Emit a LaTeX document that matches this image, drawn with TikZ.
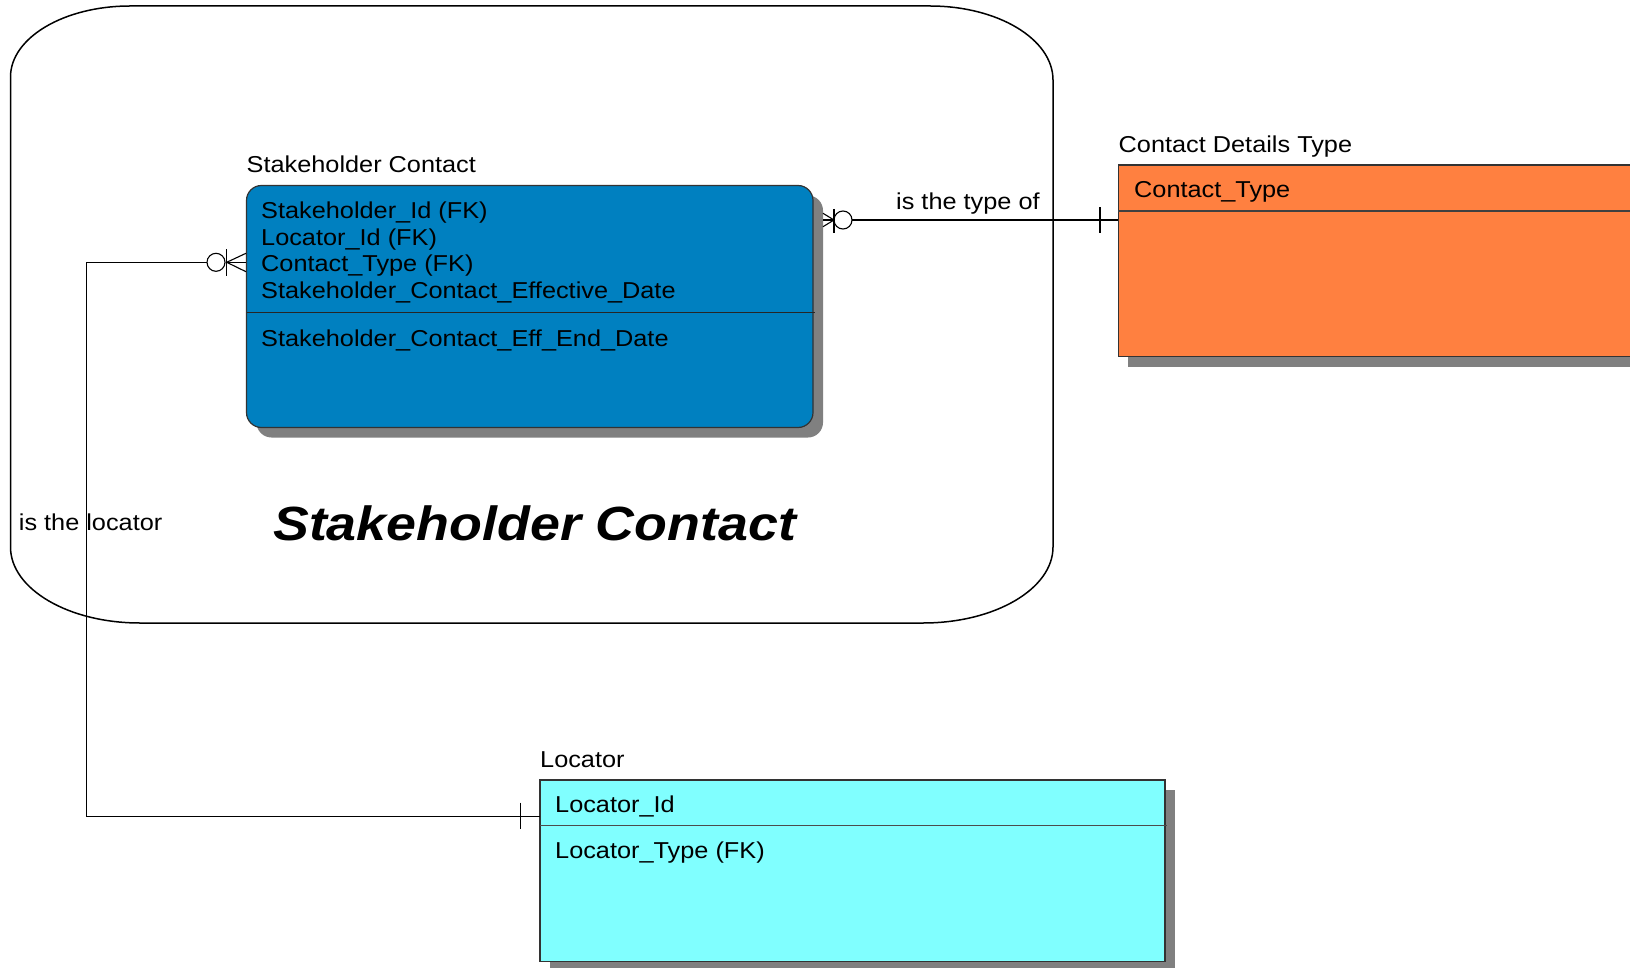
\documentclass[tikz,border=0pt]{standalone}
\usepackage{fontspec}
\setmainfont{Liberation Sans}
\usepackage{graphicx}
\usetikzlibrary{shadows}
\definecolor{scblue}{RGB}{0,128,192}
\definecolor{cdorange}{RGB}{255,128,64}
\definecolor{loccyan}{RGB}{128,255,255}
\definecolor{shadowgray}{RGB}{128,128,128}
\newcommand{\wtxt}[1]{\scalebox{1.1}[1]{#1}}
\tikzset{
  entitybox/.style={draw=black!80, line width=1.2pt, inner sep=0pt, outer sep=0pt, anchor=north west,
    drop shadow={shadow xshift=10pt, shadow yshift=-10pt, fill=shadowgray, opacity=1}},
  etext/.style={anchor=base west, inner sep=0pt, font=\fontsize{23}{27}\selectfont},
  conn/.style={line width=1.1pt, black},
  bigtitle/.style={anchor=base west, inner sep=0pt, font=\fontsize{48}{56}\selectfont\bfseries\itshape}
}
\begin{document}
\begin{tikzpicture}[x=1pt,y=-1pt]
\useasboundingbox (0,0) rectangle (1630,968);
\clip (0,0) rectangle (1630,968);
\fill[white] (0,0) rectangle (1630,968);

% subject area container
\draw[line width=1.5pt] (130,6) -- (930,6)
  arc[start angle=90, end angle=0, x radius=123, y radius=-74] -- (1053,547)
  arc[start angle=0, end angle=-90, x radius=130, y radius=-76] -- (140,623)
  arc[start angle=-90, end angle=-180, x radius=129.5, y radius=-76] -- (10.5,77)
  arc[start angle=180, end angle=90, x radius=119.5, y radius=-71] -- cycle;

\node[bigtitle] (title) at (273,540.5) {\scalebox{1.12}[1]{Stakeholder Contact}};

% Stakeholder Contact entity
\node[entitybox, fill=scblue, rounded corners=15pt, minimum width=566.5pt, minimum height=242pt] (sc) at (246.5,185.5) {};
\draw[line width=1.1pt, black!85] (246.5,312.3) -- (815,312.3);
\node[etext] (sclabel) at (246.5,173) {\wtxt{Stakeholder Contact}};
\node[etext] (sc1) at (261,218.5) {\wtxt{Stakeholder\_Id (FK)}};
\node[etext] (sc2) at (261,245.3) {\wtxt{Locator\_Id (FK)}};
\node[etext] (sc3) at (261,272) {\wtxt{Contact\_Type (FK)}};
\node[etext] (sc4) at (261,298.8) {\wtxt{Stakeholder\_Contact\_Effective\_Date}};
\node[etext] (sc5) at (261,346) {\wtxt{Stakeholder\_Contact\_Eff\_End\_Date}};

% Contact Details Type entity
\node[entitybox, fill=cdorange, minimum width=540pt, minimum height=191.7pt] (cdt) at (1118.3,165) {};
\draw[line width=1.1pt, black!75] (1118.3,211) -- (1660,211);
\node[etext] (cdtlabel) at (1118.5,152.5) {\wtxt{Contact Details Type}};
\node[etext] (cdt1) at (1134,198) {\wtxt{Contact\_Type}};

% Locator entity
\node[entitybox, fill=loccyan, minimum width=625pt, minimum height=181.7pt] (loc) at (540,780) {};
\draw[line width=1.1pt, black!70] (540,825.7) -- (1167,825.7);
\node[etext] (loclabel) at (540,767) {\wtxt{Locator}};
\node[etext] (loc1) at (555,812.5) {\wtxt{Locator\_Id}};
\node[etext] (loc2) at (555,858) {\wtxt{Locator\_Type (FK)}};

% relationship: is the type of
\coordinate (r1a) at (823,220);
\coordinate (r1b) at (834,220);
\coordinate (r1c) at (852,220);
\coordinate (r1d) at (1118.3,220);
\draw[conn] (823,213.3) -- (r1b) -- (823,226.7);
\draw[conn] (r1a) -- (r1b);
\draw[conn] (834,209) -- (834,233);
\draw[conn] (843,220) circle[radius=9];
\draw[conn] (r1c) -- (r1d);
\draw[conn] (1100,207.3) -- (1100,233.3);
\node[etext] (rel1) at (896,209.5) {\wtxt{is the type of}};

% relationship: is the locator
\coordinate (r2a) at (246,262.3);
\coordinate (r2b) at (226.7,262.3);
\coordinate (r2c) at (207,262.3);
\coordinate (r2d) at (86.7,262.3);
\coordinate (r2e) at (86.7,816.7);
\coordinate (r2f) at (540,816.7);
\draw[conn] (246,253.3) -- (r2b) -- (246,271.7);
\draw[conn] (r2a) -- (r2b);
\draw[conn] (226.7,249.3) -- (226.7,276);
\draw[conn] (216,262.3) circle[radius=9];
\draw[conn] (r2c) -- (r2d) -- (r2e) -- (r2f);
\draw[conn] (520.7,802.7) -- (520.7,829.3);
\node[etext] (rel2) at (18.7,530) {\wtxt{is the locator}};
\end{tikzpicture}
\end{document}
